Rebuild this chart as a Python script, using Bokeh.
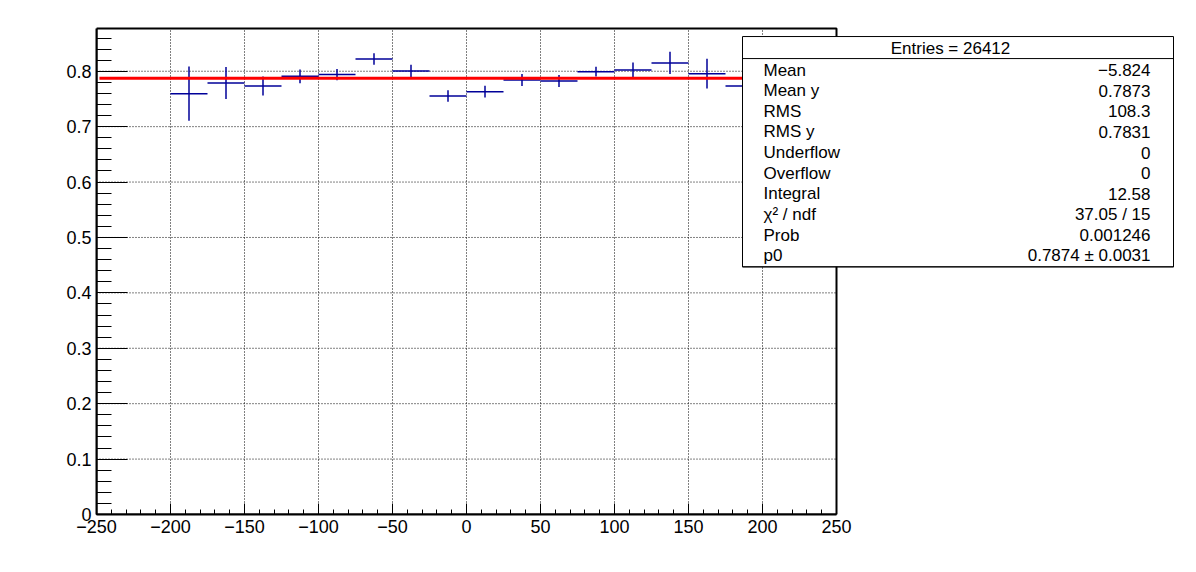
from bokeh.plotting import figure
from bokeh.models import FixedTicker, BoxAnnotation, Label
from bokeh.embed import file_html
from bokeh.resources import INLINE

# ---- data ----
bin_lo = [-200, -175, -150, -125, -100, -75, -50, -25, 0, 25, 50, 75, 100, 125, 150, 175]
bin_hi = [-175, -150, -125, -100, -75, -50, -25, 0, 25, 50, 75, 100, 125, 150, 175, 200]
values = [0.7595, 0.7788, 0.7734, 0.7908, 0.7939, 0.8222, 0.8005, 0.7553,
          0.7631, 0.7842, 0.7824, 0.7993, 0.8023, 0.8150, 0.7957, 0.7734]
errors = [0.049, 0.029, 0.017, 0.0125, 0.010, 0.0105, 0.011, 0.0105,
          0.0105, 0.011, 0.011, 0.0088, 0.0136, 0.020, 0.027, 0.040]
fit_p0 = 0.7874
fit_x = [-248, 250]

x_ticks = [-250, -200, -150, -100, -50, 0, 50, 100, 150, 200, 250]
x_tick_labels = ["\u2212250", "\u2212200", "\u2212150", "\u2212100", "\u221250",
                 "0", "50", "100", "150", "200", "250"]
y_ticks = [0, 0.1, 0.2, 0.3, 0.4, 0.5, 0.6, 0.7, 0.8]
y_tick_labels = ["0", "0.1", "0.2", "0.3", "0.4", "0.5", "0.6", "0.7", "0.8"]

stats_header = "Entries = 26412"
stats_names = ["Mean", "Mean y", "RMS", "RMS y", "Underflow", "Overflow",
               "Integral", "\u03c7\u00b2 / ndf", "Prob", "p0"]
stats_values = ["\u22125.824", "0.7873", "108.3", "0.7831", "0", "0",
                "12.58", "37.05 / 15", "0.001246", "0.7874 \u00b1 0.0031"]

FONT = "Liberation Sans"
FS = "17px"
FS_TICK = "18px"
X0, X1, Y0, Y1 = -250, 250, 0, 0.877

# pixel layout helpers (frame: x=-250 at px 96, 250 at px 836; y=0 at px 513.3, 0.1 per 55.33 px)
def px2x(px):
    return X0 + (px - 96) / 740 * (X1 - X0)

def py2y(py):
    return (513.3 - py) / 553.3

W, H = 1190, 556
FRAME_R_PX, FRAME_T_PX = 1186, 10
p = figure(width=W, height=H, x_range=(X0, px2x(FRAME_R_PX)), y_range=(Y0, py2y(FRAME_T_PX)),
           output_backend="svg", toolbar_location=None,
           min_border_left=96, min_border_right=W - FRAME_R_PX,
           min_border_top=FRAME_T_PX, min_border_bottom=int(H - 513.3))
p.background_fill_color = "white"
p.border_fill_color = "white"
p.outline_line_color = None
p.xgrid.visible = False
p.ygrid.visible = False

# axes
xminor = [v for v in range(-250, 251, 10) if v % 50 != 0]
p.xaxis.ticker = FixedTicker(ticks=x_ticks, minor_ticks=xminor)
p.xaxis.major_label_overrides = {t: l for t, l in zip(x_ticks, x_tick_labels)}
p.xaxis.bounds = (X0, X1)
yminor = [round(0.02 * i, 2) for i in range(0, 44) if i % 5 != 0]
p.yaxis.ticker = FixedTicker(ticks=y_ticks, minor_ticks=yminor)
p.yaxis.major_label_overrides = {t: l for t, l in zip(y_ticks, y_tick_labels)}
p.yaxis.bounds = (Y0, Y1)

for ax in (p.xaxis[0], p.yaxis[0]):
    ax.axis_line_width = 2
    ax.axis_line_color = "black"
    ax.major_tick_out = 0
    ax.minor_tick_out = 0
    ax.major_tick_line_color = "black"
    ax.minor_tick_line_color = "black"
    ax.major_label_text_font = FONT
    ax.major_label_text_font_size = FS_TICK
    ax.major_label_text_color = "black"
    ax.major_label_standoff = 5
p.xaxis.major_tick_in = 11
p.xaxis.minor_tick_in = 5
p.yaxis.major_tick_in = 31
p.yaxis.minor_tick_in = 15

# dotted grid restricted to the histogram frame
gx = [t for t in x_ticks if X0 < t < X1]
gy = [t for t in y_ticks if Y0 < t < Y1]
p.segment(x0=gx, y0=[Y0] * len(gx), x1=gx, y1=[Y1] * len(gx),
          line_color="black", line_dash="1 2", line_width=1)
p.segment(x0=[X0] * len(gy), y0=gy, x1=[X1] * len(gy), y1=gy,
          line_color="black", line_dash="1 2", line_width=1)

# data: error bars
centers = [(a + b) / 2 for a, b in zip(bin_lo, bin_hi)]
lows = [v - e for v, e in zip(values, errors)]
highs = [v + e for v, e in zip(values, errors)]
col = "#000099"
p.segment(x0=bin_lo, y0=values, x1=bin_hi, y1=values, line_color=col, line_width=1.5)
p.segment(x0=centers, y0=lows, x1=centers, y1=highs, line_color=col, line_width=1.5)

# fit line
p.line(fit_x, [fit_p0, fit_p0], line_color="red", line_width=3)

# histogram frame (top and right edges)
frame = BoxAnnotation(left=X0, right=X1, bottom=Y0, top=Y1, fill_alpha=0.0,
                      line_color="black", line_width=2, line_alpha=1.0, level="annotation")
p.add_layout(frame)

# ---- stats box ----
box = BoxAnnotation(left=px2x(742), right=px2x(1173), top=py2y(36), bottom=py2y(266),
                    fill_color="white", fill_alpha=1.0, line_color="black",
                    line_width=1, line_alpha=1.0, level="overlay")
p.add_layout(box)
box2 = BoxAnnotation(left=px2x(742), right=px2x(1173), top=py2y(58), bottom=py2y(266),
                     fill_alpha=0.0, line_color="black", line_width=1, line_alpha=1.0,
                     level="overlay")
p.add_layout(box2)

p.add_layout(Label(x=px2x(950), y=py2y(48), text=stats_header, text_align="center",
                   text_baseline="middle", text_font=FONT, text_font_size=FS,
                   text_color="black", level="overlay"))
row0, dy = 69.5, 20.6
for i, (n, v) in enumerate(zip(stats_names, stats_values)):
    yy = py2y(row0 + i * dy)
    p.add_layout(Label(x=px2x(763), y=yy, text=n, text_align="left",
                       text_baseline="middle", text_font=FONT, text_font_size=FS,
                       text_color="black", level="overlay"))
    p.add_layout(Label(x=px2x(1150), y=yy, text=v, text_align="right",
                       text_baseline="middle", text_font=FONT, text_font_size=FS,
                       text_color="black", level="overlay"))

open("out.html", "w").write(file_html(p, INLINE))
